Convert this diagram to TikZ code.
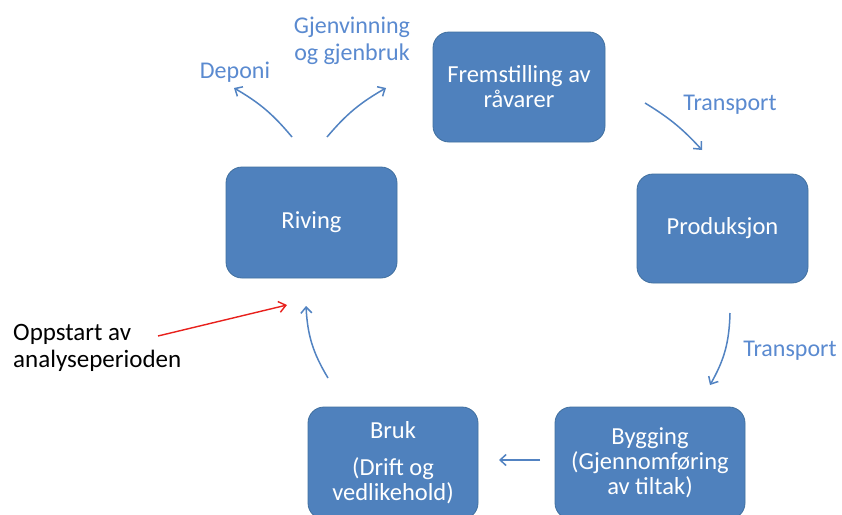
\documentclass[tikz,border=0pt]{standalone}
\usepackage{fontspec}
\setmainfont{Carlito}
\usetikzlibrary{arrows.meta}
\definecolor{boxblue}{HTML}{4F81BD}
\definecolor{boxedge}{HTML}{41709F}
\definecolor{labelblue}{HTML}{5A8AD0}
\definecolor{arrowblue}{HTML}{5283C2}
\definecolor{startred}{HTML}{E8201C}
\begin{document}
\begin{tikzpicture}[x=1pt,y=-1pt,
  stage/.style={draw=boxedge, line width=0.8pt, fill=boxblue, rounded corners=16pt,
    text=white, font=\fontsize{24.5}{25}\selectfont, align=center, inner sep=0pt},
  flowlabel/.style={text=labelblue, font=\fontsize{24}{27}\selectfont, align=center, inner sep=0pt},
  flow/.style={draw=arrowblue, line width=1.5pt, -{Straight Barb[length=6pt,width=11pt]}},
  startnote/.style={text=black, font=\fontsize{25}{27}\selectfont, align=left, inner sep=0pt},
  startflow/.style={draw=startred, line width=1.4pt, -{Straight Barb[length=7pt,width=11pt]}}]
\useasboundingbox (0,0) rectangle (842,514);
\clip (0,0) rectangle (842,514);
\fill[white] (0,0) rectangle (842,514);

% life-cycle stages
\node[stage, minimum width=172pt, minimum height=110pt] (raw) at (519,87) {Fremstilling av\\råvarer};
\node[stage, minimum width=171pt, minimum height=109pt] (prod) at (722.5,228.5) {Produksjon};
\node[stage, minimum width=190pt, minimum height=112pt] (build) at (650,463) {Bygging\\(Gjennomføring\\av tiltak)};
\node[stage, minimum width=170pt, minimum height=112pt] (use) at (393,463) {Bruk\\[12pt](Drift og\\vedlikehold)};
\node[stage, minimum width=171pt, minimum height=111pt] (demo) at (311.5,222.5) {Riving};

% flow labels
\node[flowlabel] (landfill) at (235,72) {Deponi};
\node[flowlabel] (reuse) at (352,41) {Gjenvinning\\og gjenbruk};
\node[flowlabel] (tr1) at (730,105) {Transport};
\node[flowlabel] (tr2) at (790,351) {Transport};
\node[startnote, anchor=west] (start) at (13,348) {Oppstart av\\analyseperioden};

% arrow end points
\coordinate (dA) at (292,137);  \coordinate (dB) at (234,88);
\coordinate (rA) at (327,137);  \coordinate (rB) at (386,88);
\coordinate (t1A) at (645,103); \coordinate (t1B) at (702,150);
\coordinate (t2A) at (730,313); \coordinate (t2B) at (710,385);
\coordinate (bA) at (540,460);  \coordinate (bB) at (499,460);
\coordinate (uA) at (328,378);  \coordinate (uB) at (306,306);
\coordinate (sA) at (158,336);  \coordinate (sB) at (287,305);

% flows between stages
\draw[flow] (dA) to[bend right=10] (dB);
\draw[flow] (rA) to[bend left=10] (rB);
\draw[flow] (t1A) to[bend left=8] (t1B);
\draw[flow] (t2A) to[bend left=14] (t2B);
\draw[flow] (bA) -- (bB);
\draw[flow] (uA) to[bend left=14] (uB);
\draw[startflow] (sA) -- (sB);
\end{tikzpicture}
\end{document}
